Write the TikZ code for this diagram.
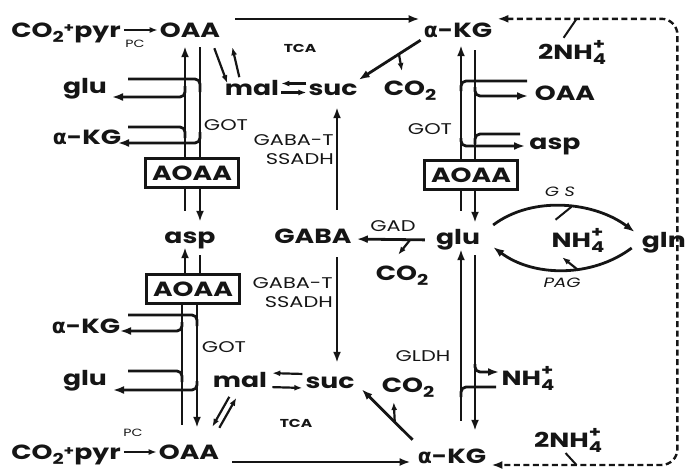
\documentclass[tikz,border=0pt]{standalone}
\usepackage{fontspec}
\setmainfont{Poppins}
\newfontfamily\metfont{Poppins}[FakeStretch=1.3]
\newfontfamily\enzfont{Poppins}[FakeStretch=1.35]
\newfontfamily\grkfont{DejaVu Sans}
\usetikzlibrary{arrows.meta,positioning,calc}
\definecolor{ink}{HTML}{151515}
\newcommand{\akg}{{\grkfont\bfseries α}-KG}
\newcommand{\cotwo}{CO\raisebox{-0.45ex}{\fontsize{15}{15}\selectfont 2}}
\newcommand{\ammo}{NH\rlap{\raisebox{0.8ex}{\fontsize{15}{15}\selectfont +}}\raisebox{-0.5ex}{\fontsize{15}{15}\selectfont 4}}
\tikzset{met/.style={font=\metfont\bfseries\fontsize{20.5}{21}\selectfont,text=ink,
  inner sep=1pt,text height=14pt,text depth=0pt},
  enz/.style={font=\enzfont\fontsize{15.5}{19}\selectfont,text=ink,inner sep=1pt,align=right},
  tag/.style={font=\enzfont\bfseries\fontsize{11.5}{12}\selectfont,text=ink,inner sep=1pt},
  inhib/.style={met,font=\metfont\bfseries\fontsize{20.5}{21}\selectfont,text height=15pt,
  draw=ink,line width=2.4pt,fill=white,minimum width=93pt,minimum height=29pt,inner xsep=0pt},
  rail/.style={line width=2.8pt,draw=ink},
  arrow/.style={rail,-{Latex[length=11pt,width=8pt]}},
  tick/.style={line width=2.2pt,draw=ink,-{Latex[length=8pt,width=6pt]}},
  dashln/.style={line width=2.4pt,draw=ink,dash pattern=on 6pt off 3.5pt,rounded corners=16pt,
  {Latex[length=11pt,width=8pt]}-{Latex[length=11pt,width=8pt]}}}
\begin{document}
\begin{tikzpicture}[x=1pt,y=-1pt]
\useasboundingbox (0,0) rectangle (687,471);
% rail positions
\coordinate (la) at (185,0); \coordinate (ra) at (200,0);
\coordinate (lb) at (182,0); \coordinate (rb) at (197,0);
\coordinate (lc) at (461,0); \coordinate (rc) at (475,0);
\coordinate (vx) at (337,0);
% upper half
\node[met] (co2a) at (66,30) {\cotwo\raisebox{.35ex}{\fontsize{13}{13}\selectfont+}pyr};
\node[met] (oaaa) at (190,30) {OAA};
\node[tag,font=\enzfont\fontsize{10.5}{11}\selectfont] (pca) at (135,44) {PC};
\node[met] (akga) at (458,30) {\akg};
\node[tag] (tcaa) at (300,48) {TCA};
\node[met] (mala) at (252,88) {mal};
\node[met] (suca) at (333,88) {suc};
\node[met] (co2b) at (410,88) {\cotwo};
\node[met] (glua) at (85,86) {glu};
\node[met] (akgb) at (87,137) {\akg};
\node[enz] (gota) at (226,125) {GOT};
\node[inhib] (aoaaa) at (192,173) {AOAA};
\node[met] (aspa) at (190,236) {asp};
\node[inhib] (aoaab) at (193,289) {AOAA};
\node[met] (nh4c) at (572,52) {2\ammo};
\node[met] (oaac) at (565,93) {OAA};
\node[met] (aspb) at (555,142) {asp};
\node[enz] (gotc) at (430,129) {GOT};
\node[inhib] (aoaac) at (471,175) {AOAA};
\node[enz,anchor=east] (gtup) at (335,150) {GABA-T\\SSADH};
% middle
\node[met] (gaba) at (313,236) {GABA};
\node[enz] (gad) at (393,226) {GAD};
\node[met] (co2e) at (402,273) {\cotwo};
\node[met] (gluc) at (458,237) {glu};
\node[met] (nh4d) at (578,240) {\ammo};
\node[met,anchor=east] (gln) at (687,240) {gln};
\node[enz,font=\enzfont\itshape\fontsize{13.5}{14}\selectfont] (gs) at (560,192) {G S};
\node[enz,font=\enzfont\itshape\fontsize{13.5}{14}\selectfont] (pag) at (562,283) {PAG};
% lower half
\node[enz,anchor=east] (gtdn) at (334,293) {GABA-T\\SSADH};
\node[met] (akgc) at (86,326) {\akg};
\node[enz] (gotb) at (224,347) {GOT};
\node[met] (glub) at (85,378) {glu};
\node[met] (malb) at (240,380) {mal};
\node[met] (sucb) at (330,381) {suc};
\node[tag] (tcab) at (296,423) {TCA};
\node[met] (co2d) at (408,385) {\cotwo};
\node[enz] (gldh) at (423,356) {GLDH};
\node[met] (nh4a) at (528,378) {\ammo};
\node[met] (nh4b) at (568,440) {2\ammo};
\node[met] (co2c) at (66,452) {\cotwo\raisebox{.35ex}{\fontsize{13}{13}\selectfont+}pyr};
\node[met] (oaab) at (189,452) {OAA};
\node[tag,font=\enzfont\fontsize{10.5}{11}\selectfont] (pcb) at (133,433) {PC};
\node[met] (akgd) at (452,456) {\akg};

% PC and the two TCA arrows
\draw[tick,shorten <=2pt,shorten >=1pt] (co2a.east) -- (co2a.east -| oaaa.west);
\draw[tick,shorten <=2pt,shorten >=1pt] (co2c.east) -- (co2c.east -| oaab.west);
\path ($(oaaa.east)+(14,-11)$) coordinate (tca);
\draw[arrow] (tca) -- ([xshift=-3pt]tca -| akga.west);
\path ($(oaab.east)+(12,10)$) coordinate (tcb);
\draw[arrow] (tcb) -- ([xshift=-6pt]tcb -| akgd.west);

% OAA <-> mal, mal <-> suc
\draw[tick] ($(oaaa.south east)+(-7,10)$) -- ++(13,35);
\draw[tick] ($(oaaa.south east)+(18,39)$) -- ++(-7,-30);
\draw[tick,shorten <=1pt,shorten >=1pt] ([yshift=4.5pt]suca.west) -- ([yshift=4.5pt]mala.east);
\draw[tick,shorten <=1pt,shorten >=1pt] ([yshift=-4.5pt]mala.east) -- ([yshift=-4.5pt]suca.west);
\draw[tick] ($(oaab.north east)+(9,-47)$) -- ++(-17,30);
\draw[tick] ($(oaab.north east)+(-1,-16)$) -- ++(17,-30);
\draw[tick,shorten <=2pt,shorten >=4pt] ([yshift=7pt]sucb.west) -- ([yshift=7pt]malb.east);
\draw[tick,shorten <=4pt,shorten >=2pt] ([yshift=-7pt]malb.east) -- ([yshift=-7pt]sucb.west);

% alpha-KG -> suc, with CO2 split off
\draw[arrow] ($(akga.south west)+(-2,2)$) -- coordinate[pos=.35] (ka) (suca.north east);
\draw[tick] (ka) -- ++(3,17);
\draw[arrow] ($(akgd.north west)+(-4,-8)$) -- coordinate[pos=.35] (kb) ($(sucb.south east)+(6,0)$);
\draw[tick] (kb) -- ++(-1,-20);

% GABA shunt
\draw[arrow,shorten <=18pt,shorten >=11pt] (vx |- gaba.north) -- (vx |- suca.south);
\draw[arrow,shorten <=13pt,shorten >=10pt] (vx |- gaba.south) -- (vx |- sucb.north);
\draw[arrow,shorten <=10pt,shorten >=4pt] ([yshift=-3pt]gluc.west) -- coordinate[pos=.3] (gd) ([yshift=-3pt]gaba.east);
\draw[tick] (gd) -- ++(-12,15);

% left column, GOT
\draw[arrow,shorten >=8pt] (la |- aoaaa.north) -- (la |- oaaa.south);
\draw[rail,shorten <=9pt] (ra |- oaaa.south) -- (ra |- aoaaa.north);
\draw[rail,rounded corners=5pt] (128,79) -| (200,92);
\draw[arrow,rounded corners=5pt] (185,86) |- (112,97);
\draw[rail,rounded corners=5pt] (128,127) -| (185,138);
\draw[arrow,rounded corners=5pt] (200,132) |- (118,143);
\draw[rail] (la |- aoaaa.south) -- ++(0,22);
\draw[arrow,shorten >=6pt] (ra |- aoaaa.south) -- (ra |- aspa.north);
\draw[arrow,shorten >=3pt] (la |- aoaab.north) -- (la |- aspa.south);
\draw[rail] (ra |- aoaab.north) -- ++(0,-18);
\draw[rail,shorten >=19pt] (lb |- aoaab.south) -- (lb |- oaab.north);
\draw[arrow,shorten >=16pt] (rb |- aoaab.south) -- (rb |- oaab.north);
\draw[rail,rounded corners=5pt] (128,315) -| (197,326);
\draw[arrow,rounded corners=5pt] (182,322) |- (120,331);
\draw[rail,rounded corners=5pt] (128,371) -| (182,382);
\draw[arrow,rounded corners=5pt] (197,381) |- (113,390);

% right column, GOT and GLDH
\draw[arrow,shorten >=7pt] (lc |- aoaac.north) -- (lc |- akga.south);
\draw[rail,shorten <=12pt] (rc |- akga.south) -- (rc |- aoaac.north);
\draw[rail,rounded corners=5pt] (527,81) -| (461,91);
\draw[arrow,rounded corners=5pt] (475,87) |- (528,96);
\draw[rail,rounded corners=5pt] (520,134) -| (475,144);
\draw[arrow,rounded corners=5pt] (461,138) |- (525,146);
\draw[rail] (lc |- aoaac.south) -- ++(0,20);
\draw[arrow,shorten >=6pt] (rc |- aoaac.south) -- (rc |- gluc.north);
\draw[arrow,shorten <=27pt,shorten >=4pt] (lc |- akgd.north) -- (lc |- gluc.south);
\draw[arrow,shorten <=10pt,shorten >=17pt] (rc |- gluc.south) -- (rc |- akgd.north);
\draw[arrow,rounded corners=5pt] (475,364) |- (499,372);
\draw[rail,rounded corners=5pt] (496,387) -| (461,397);

% GS / PAG
\draw[arrow] ($(gluc.east)+(12,-12)$) .. controls +(40,-30) and +(-40,-30) .. coordinate[pos=.55] (gsm) ($(gln.west)+(-6,-8)$);
\draw[rail,line width=2pt] (gsm) -- ++(-16,13);
\draw[arrow] ($(gln.west)+(-9,8)$) .. controls +(-40,30) and +(40,30) .. coordinate[pos=.4] (pgm) ($(gluc.east)+(12,10)$);
\draw[tick] (pgm) -- ++(-15,-12);

% ammonia return
\draw[dashln] ($(akga.north east)+(4,-3)$) -- coordinate[pos=.44] (dt) ++(180,0) |- ($(akgd.east)+(4,9)$);
\path ($(akgd.east)+(4,9)$) -- coordinate[pos=.46] (db) ++(185,0);
\draw[rail,line width=2pt] (dt) -- ++(-13,19);
\draw[rail,line width=2pt] (db) -- ++(-11,-12);
\end{tikzpicture}
\end{document}
